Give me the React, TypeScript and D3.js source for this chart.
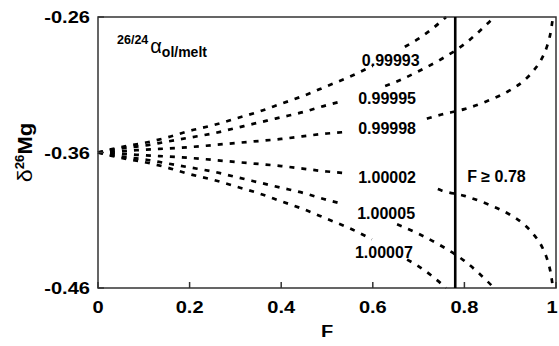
import { useEffect, useRef } from "react";
import * as d3 from "d3";

const F_TICKS = [0, 0.2, 0.4, 0.6, 0.8, 1];
const F_TICK_LABELS = ["0", "0.2", "0.4", "0.6", "0.8", "1"];
const D_TICKS = [-0.26, -0.36, -0.46];
const D_TICK_LABELS = ["-0.26", "-0.36", "-0.46"];
const F_CUTOFF = 0.78;

// null marks the gap left open for the inline label
const F_99993 = [0, 0.05, 0.1, 0.15, 0.2, 0.25, 0.3, 0.35, 0.4, 0.45, 0.5, 0.55, 0.6, 0.63, 0.67, 0.7, 0.75, 0.76];
const D_99993 = [-0.36, -0.356, -0.353, -0.349, -0.344, -0.34, -0.335, -0.33, -0.324, -0.318, -0.311, -0.304, -0.296, null, -0.282, -0.276, -0.263, -0.26];

const F_99995 = [0, 0.05, 0.1, 0.15, 0.2, 0.25, 0.3, 0.35, 0.4, 0.45, 0.5, 0.535, 0.58, 0.627, 0.65, 0.7, 0.75, 0.8, 0.85, 0.865];
const D_99995 = [-0.36, -0.357, -0.355, -0.352, -0.349, -0.346, -0.342, -0.338, -0.334, -0.33, -0.325, -0.322, null, -0.311, -0.308, -0.3, -0.291, -0.28, -0.265, -0.26];

const F_99998 = [0, 0.1, 0.2, 0.3, 0.4, 0.5, 0.535, 0.62, 0.718, 0.75, 0.8, 0.85, 0.9, 0.93, 0.95, 0.97, 0.98, 0.99, 0.9933];
const D_99998 = [-0.36, -0.358, -0.356, -0.353, -0.35, -0.346, -0.345, null, -0.335, -0.332, -0.328, -0.322, -0.314, -0.307, -0.3, -0.29, -0.282, -0.268, -0.26];

const F_00002 = [0, 0.1, 0.2, 0.3, 0.4, 0.5, 0.533, 0.64, 0.742, 0.75, 0.8, 0.85, 0.9, 0.93, 0.95, 0.97, 0.98, 0.99, 0.9933];
const D_00002 = [-0.36, -0.362, -0.364, -0.367, -0.37, -0.374, -0.375, null, -0.387, -0.388, -0.392, -0.398, -0.406, -0.413, -0.42, -0.43, -0.438, -0.452, -0.46];

const F_00005 = [0, 0.05, 0.1, 0.15, 0.2, 0.25, 0.3, 0.35, 0.4, 0.45, 0.5, 0.535, 0.6, 0.653, 0.7, 0.75, 0.8, 0.85, 0.865];
const D_00005 = [-0.36, -0.363, -0.365, -0.368, -0.371, -0.374, -0.378, -0.382, -0.386, -0.39, -0.395, -0.398, null, -0.413, -0.42, -0.429, -0.44, -0.455, -0.46];

const F_00007 = [0, 0.05, 0.1, 0.15, 0.2, 0.25, 0.3, 0.35, 0.4, 0.45, 0.5, 0.55, 0.598, 0.635, 0.675, 0.7, 0.75, 0.76];
const D_00007 = [-0.36, -0.364, -0.367, -0.371, -0.376, -0.38, -0.385, -0.39, -0.396, -0.402, -0.409, -0.416, -0.424, null, -0.439, -0.444, -0.457, -0.46];

const ALPHA_LABELS = ["0.99993", "0.99995", "0.99998", "1.00002", "1.00005", "1.00007"];
const LABEL_F = [0.576, 0.568, 0.568, 0.568, 0.566, 0.561];
const LABEL_D = [-0.296, -0.3242, -0.3463, -0.3825, -0.4091, -0.4379];

const SERIES = [
  { f: F_99993, d: D_99993 },
  { f: F_99995, d: D_99995 },
  { f: F_99998, d: D_99998 },
  { f: F_00002, d: D_00002 },
  { f: F_00005, d: D_00005 },
  { f: F_00007, d: D_00007 },
];

const FONT = "'Liberation Sans', Arial, Helvetica, sans-serif";

function RayleighChart() {
  const ref = useRef<HTMLDivElement>(null);

  useEffect(() => {
    const container = d3.select(ref.current);
    container.selectAll("*").remove();

    const width = 559;
    const height = 346;
    const margin = { top: 17, right: 3, bottom: 58, left: 98 };

    const svg = container
      .append("svg")
      .attr("width", width)
      .attr("height", height)
      .style("position", "absolute")
      .style("left", "0px")
      .style("top", "0px")
      .style("background", "#fff");

    const x = d3.scaleLinear().domain([0, 1]).range([margin.left, width - margin.right]);
    const y = d3.scaleLinear().domain([-0.46, -0.26]).range([height - margin.bottom, margin.top]);

    // curves
    SERIES.forEach((s) => {
      const pts = s.f.map((f, i) => ({ f, d: s.d[i] }));
      const line = d3
        .line<{ f: number; d: number | null }>()
        .defined((p) => p.d !== null)
        .x((p) => x(p.f))
        .y((p) => y(p.d as number))
        .curve(d3.curveMonotoneX);
      svg
        .append("path")
        .datum(pts)
        .attr("fill", "none")
        .attr("stroke", "#000")
        .attr("stroke-width", 2.7)
        .attr("stroke-dasharray", "5,7")
        .attr("d", line);
    });

    // frame
    svg
      .append("rect")
      .attr("x", x(0))
      .attr("y", y(-0.26))
      .attr("width", x(1) - x(0))
      .attr("height", y(-0.46) - y(-0.26))
      .attr("fill", "none")
      .attr("stroke", "#333")
      .attr("stroke-width", 1.5);

    // F cutoff line
    svg
      .append("line")
      .attr("x1", x(F_CUTOFF))
      .attr("x2", x(F_CUTOFF))
      .attr("y1", y(-0.26))
      .attr("y2", y(-0.46))
      .attr("stroke", "#000")
      .attr("stroke-width", 2.6);

    // ticks (inward)
    F_TICKS.forEach((t, i) => {
      svg
        .append("line")
        .attr("x1", x(t))
        .attr("x2", x(t))
        .attr("y1", y(-0.46))
        .attr("y2", y(-0.46) - 6)
        .attr("stroke", "#333")
        .attr("stroke-width", 1.5);
      // keep the last label inside the page
      const lx = Math.min(x(t), width - 7);
      svg
        .append("text")
        .attr("transform", `translate(${lx},${y(-0.46) + 25}) scale(1.18,1)`)
        .attr("text-anchor", "middle")
        .style("font-family", FONT)
        .style("font-weight", "bold")
        .style("font-size", "17px")
        .text(F_TICK_LABELS[i]);
    });

    D_TICKS.forEach((t, i) => {
      svg
        .append("line")
        .attr("x1", x(0))
        .attr("x2", x(0) + 6)
        .attr("y1", y(t))
        .attr("y2", y(t))
        .attr("stroke", "#333")
        .attr("stroke-width", 1.5);
      svg
        .append("text")
        .attr("transform", `translate(${x(0) - 8},${y(t) + 6}) scale(1.18,1)`)
        .attr("text-anchor", "end")
        .style("font-family", FONT)
        .style("font-weight", "bold")
        .style("font-size", "17px")
        .text(D_TICK_LABELS[i]);
    });

    // axis titles
    svg
      .append("text")
      .attr("transform", `translate(${(x(0) + x(1)) / 2},${height - 9}) scale(1.18,1)`)
      .attr("text-anchor", "middle")
      .style("font-family", FONT)
      .style("font-weight", "bold")
      .style("font-size", "17px")
      .text("F");

    const yt = svg
      .append("text")
      .attr("transform", `translate(32,${(y(-0.26) + y(-0.46)) / 2}) rotate(-90) scale(1.1,1)`)
      .attr("text-anchor", "middle")
      .style("font-family", FONT)
      .style("font-weight", "bold")
      .style("font-size", "20px");
    yt.append("tspan").style("font-weight", "normal").style("font-size", "21px").text("δ");
    yt.append("tspan").attr("dy", -8).style("font-size", "12px").text("26");
    yt.append("tspan").attr("dy", 8).text("Mg");

    // inline curve labels
    ALPHA_LABELS.forEach((lab, i) => {
      svg
        .append("text")
        .attr("x", x(LABEL_F[i]))
        .attr("y", y(LABEL_D[i]))
        .style("font-family", FONT)
        .style("font-weight", "bold")
        .style("font-size", "16px")
        .text(lab);
    });

    svg
      .append("text")
      .attr("x", x(0.806))
      .attr("y", y(-0.3818))
      .style("font-family", FONT)
      .style("font-weight", "bold")
      .style("font-size", "16px")
      .text("F ≥ 0.78");

    // alpha annotation
    const a = svg
      .append("text")
      .attr("x", x(0.0415))
      .attr("y", y(-0.2799))
      .style("font-family", FONT)
      .style("font-weight", "bold")
      .style("font-size", "12.5px");
    a.append("tspan").text("26/24");
    a.append("tspan")
      .attr("dx", 2)
      .attr("dy", 9)
      .style("font-weight", "normal")
      .style("font-size", "20px")
      .text("α");
    a.append("tspan").attr("dy", 4).style("font-size", "14px").text("ol/melt");
  }, []);

  return <div ref={ref} />;
}

export default function App() {
  return <RayleighChart />;
}
